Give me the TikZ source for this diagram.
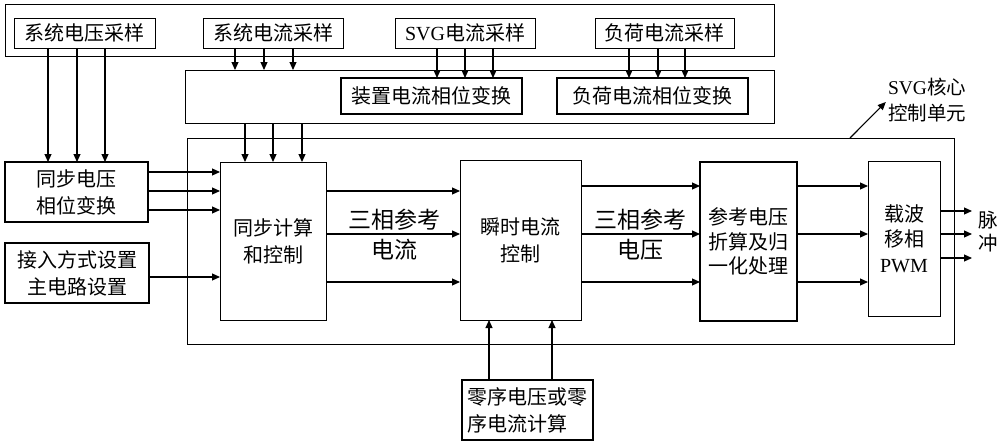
\documentclass[tikz,border=0pt]{standalone}
\usepackage{fontspec}
\setmainfont{Noto Sans CJK SC}
\newfontfamily\latn{Liberation Serif}
\usetikzlibrary{arrows.meta}
\begin{document}
\begin{tikzpicture}[x=1pt,y=-1pt,
  blk/.style={draw, line width=0.9pt, inner sep=0pt, outer sep=0pt, anchor=north west, align=center, font=\fontsize{20}{27}\selectfont},
  thk/.style={blk, line width=2pt},
  lbl/.style={inner sep=1pt, align=center, font=\fontsize{19.5}{26}\selectfont},
  big/.style={inner sep=0pt, align=center, font=\fontsize{23}{30}\selectfont},
  arr/.style={-{Triangle[length=8pt,width=7pt]}, line width=1.1pt},
  ln/.style={line width=1.1pt}]
\useasboundingbox (0,0) rectangle (1000,444);
% top group
\node[blk, minimum width=769, minimum height=52] (top) at (5,4) {};
\node[blk, minimum width=141, minimum height=30] (vs) at (14,18) {系统电压采样};
\node[blk, minimum width=140, minimum height=30] (is) at (203,18) {系统电流采样};
\node[blk, minimum width=140, minimum height=30] (svgs) at (395,18) {{\latn SVG}电流采样};
\node[blk, minimum width=139, minimum height=30] (ls) at (595,18) {负荷电流采样};
% phase transform group
\node[blk, minimum width=589, minimum height=53] (mid) at (185,70) {};
\node[thk, minimum width=181, minimum height=36] (dpt) at (341,78) {装置电流相位变换};
\node[thk, minimum width=191, minimum height=36] (lpt) at (557,78) {负荷电流相位变换};
% core
\node[blk, minimum width=767, minimum height=206] (core) at (187,138) {};
\node[thk, minimum width=143, minimum height=60] (svpt) at (5,162) {同步电压\\相位变换};
\node[thk, minimum width=144, minimum height=60] (acc) at (5,243) {接入方式设置\\主电路设置};
\node[blk, minimum width=106, minimum height=158] (sync) at (220,162) {同步计算\\和控制};
\node[blk, minimum width=121, minimum height=160] (icc) at (460,160) {瞬时电流\\控制};
\node[thk, minimum width=97, minimum height=159, font=\fontsize{20}{24.5}\selectfont] (ref) at (700,162) {参考电压\\折算及归\\一化处理};
\node[blk, minimum width=72, minimum height=155, font=\fontsize{20}{25.5}\selectfont] (pwm) at (868,161) {载波\\移相\\{\latn PWM}};
\node[thk, minimum width=131, minimum height=60, align=left, inner xsep=3pt] (zero) at (462,380) {零序电压或零\\序电流计算};
% labels
\node[big] (l1) at (394,235) {三相参考\\电流};
\node[big] (l2) at (640,235) {三相参考\\电压};
\node[lbl, font=\fontsize{19.5}{23}\selectfont] (pulse) at (988,232) {脉\\冲};
\node[lbl] (corel) at (927,100) {{\latn SVG}核心\\控制单元};
\coordinate (pend) at (972,0);
% arrows
\foreach \x in {48,77,105} \draw[arr] (vs.south -| \x,0) -- (svpt.north -| \x,0);
\foreach \x in {235,264,293} \draw[arr] (is.south -| \x,0) -- (mid.north -| \x,0);
\foreach \x in {437,465,493} \draw[arr] (svgs.south -| \x,0) -- (dpt.north -| \x,0);
\foreach \x in {629,658,685} \draw[arr] (ls.south -| \x,0) -- (lpt.north -| \x,0);
\foreach \x in {245,273,302} \draw[arr] (mid.south -| \x,0) -- (sync.north -| \x,0);
\foreach \y in {172,191,210} \draw[arr] (svpt.east |- 0,\y) -- (sync.west |- 0,\y);
\draw[arr] (acc.east |- 0,277) -- (sync.west |- 0,277);
\foreach \y in {191,234,282} \draw[arr] (sync.east |- 0,\y) -- (icc.west |- 0,\y);
\foreach \y in {186,234,282} \draw[arr] (icc.east |- 0,\y) -- (ref.west |- 0,\y);
\foreach \y in {186,234,282} \draw[arr] (ref.east |- 0,\y) -- (pwm.west |- 0,\y);
\foreach \y in {211,234,258} \draw[arr] (pwm.east |- 0,\y) -- (pend |- 0,\y);
\foreach \x in {489,552} \draw[arr] (zero.north -| \x,0) -- (icc.south -| \x,0);
\draw[arr] (core.north -| 850,0) -- ([xshift=-1pt,yshift=-2pt]corel.west);
\end{tikzpicture}
\end{document}
